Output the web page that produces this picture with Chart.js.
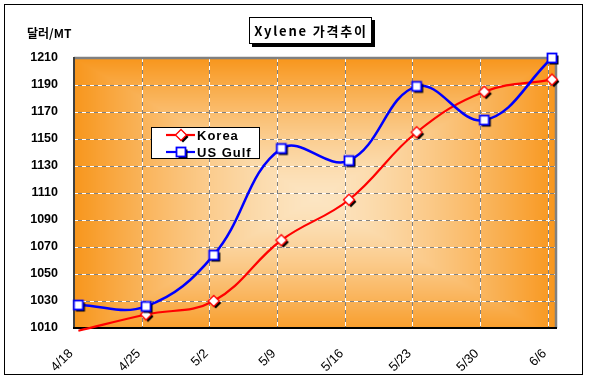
<!DOCTYPE html>
<html><head><meta charset="utf-8">
<script src="https://cdn.jsdelivr.net/npm/chart.js@4"></script>
<style>html,body{margin:0;padding:0;background:#fff}#wrap{width:589px;height:380px;position:relative}</style>
</head><body><div id="wrap"><canvas id="c" width="589" height="380"></canvas></div>
<script>
// ---- data ----
const categories = ['4/18', '4/25', '5/2', '5/9', '5/16', '5/23', '5/30', '6/6'];
const koreaValues = [1008, 1020, 1030, 1075, 1105, 1155, 1185, 1194];
const usGulfValues = [1027, 1026, 1064, 1143, 1134, 1189, 1164, 1210];
const yTickValues = [1010, 1030, 1050, 1070, 1090, 1110, 1130, 1150, 1170, 1190, 1210];
const seriesNames = ['Korea', 'US Gulf'];
const titleText = 'Xylene 가격추이';
const yUnitText = '달러/MT';

// ---- styling ----
const POINT_SHIFT = 0.065;
const KR_FONT = '"Noto Sans CJK KR", "Liberation Sans", sans-serif';

function makeMarker(kind, color) {
  const c = document.createElement('canvas');
  c.width = 20; c.height = 20;
  const g = c.getContext('2d');
  if (kind === 'diamond') {
    const d = (ox, oy) => { g.beginPath(); g.moveTo(10 + ox, 4.5 + oy); g.lineTo(15.5 + ox, 10 + oy); g.lineTo(10 + ox, 15.5 + oy); g.lineTo(4.5 + ox, 10 + oy); g.closePath(); };
    d(2, 2); g.fillStyle = '#000'; g.fill();
    d(0, 0); g.fillStyle = '#fff'; g.fill(); g.lineWidth = 1.3; g.strokeStyle = color; g.stroke();
  } else {
    g.fillStyle = '#000'; g.fillRect(7.5, 7.5, 9, 9);
    g.fillStyle = '#fff'; g.fillRect(5.5, 5.5, 9, 9);
    g.lineWidth = 1.8; g.strokeStyle = color; g.strokeRect(5.5, 5.5, 9, 9);
  }
  return c;
}
const diamondImg = makeMarker('diamond', '#ff0000');
const squareImg = makeMarker('square', '#0000ff');

const bgPlugin = {
  id: 'bg',
  beforeDraw(chart) {
    const ctx = chart.ctx, a = chart.chartArea;
    ctx.save();
    ctx.fillStyle = '#fff';
    ctx.fillRect(0, 0, chart.width, chart.height);
    ctx.strokeStyle = '#000'; ctx.lineWidth = 1;
    ctx.strokeRect(4.5, 4.5, 578, 370);
    // rectangular "from center" gradient
    const w = Math.round(a.right - a.left), h = Math.round(a.bottom - a.top);
    const img = ctx.createImageData(w, h);
    const cx = w / 2, cy = h / 2 + 5;
    const c0 = [252, 229, 194], c1 = [248, 150, 28];
    for (let y = 0; y < h; y++) {
      for (let x = 0; x < w; x++) {
        let t = Math.max(Math.abs(x - cx) / (w / 2), Math.abs(y - cy) / (h / 2 + 5));
        t = Math.min(1, Math.pow(t, 1.4));
        const i = (y * w + x) * 4;
        img.data[i] = c0[0] + (c1[0] - c0[0]) * t;
        img.data[i + 1] = c0[1] + (c1[1] - c0[1]) * t;
        img.data[i + 2] = c0[2] + (c1[2] - c0[2]) * t;
        img.data[i + 3] = 255;
      }
    }
    ctx.putImageData(img, Math.round(a.left), Math.round(a.top));
    ctx.restore();
  },
  beforeDatasetsDraw(chart) {
    const ctx = chart.ctx, a = chart.chartArea;
    const xs = chart.scales.x, ys = chart.scales.y;
    ctx.save();
    const line = (x1, y1, x2, y2) => {
      ctx.setLineDash([]); ctx.strokeStyle = '#808080'; ctx.lineWidth = 1;
      ctx.beginPath(); ctx.moveTo(x1, y1); ctx.lineTo(x2, y2); ctx.stroke();
      ctx.setLineDash([4, 4]); ctx.strokeStyle = '#ffffff';
      ctx.beginPath(); ctx.moveTo(x1, y1); ctx.lineTo(x2, y2); ctx.stroke();
    };
    yTickValues.forEach(v => {
      if (v === yTickValues[0] || v === yTickValues[yTickValues.length - 1]) return;
      const y = Math.round(ys.getPixelForValue(v)) + 0.5;
      line(a.left, y, a.right, y);
    });
    categories.forEach((c, i) => {
      if (i === 0) return;
      const x = Math.round(xs.getPixelForValue(i)) + 0.5;
      line(x, a.top, x, a.bottom);
    });
    ctx.setLineDash([]);
    ctx.strokeStyle = '#808080'; ctx.lineWidth = 2.5;
    ctx.beginPath(); ctx.moveTo(a.left, a.top); ctx.lineTo(a.right, a.top); ctx.lineTo(a.right, a.bottom); ctx.stroke();
    ctx.strokeStyle = '#404040'; ctx.lineWidth = 2;
    ctx.beginPath(); ctx.moveTo(a.left, a.top - 1); ctx.lineTo(a.left, a.bottom); ctx.stroke();
    ctx.strokeStyle = '#000'; ctx.lineWidth = 2;
    ctx.beginPath(); ctx.moveTo(a.left - 1, a.bottom); ctx.lineTo(a.right + 1, a.bottom); ctx.stroke();
    ctx.restore();
  },
  afterDraw(chart) {
    const ctx = chart.ctx;
    ctx.save();
    // y unit
    ctx.fillStyle = '#000';
    ctx.font = 'bold 12px ' + KR_FONT;
    ctx.textBaseline = 'middle'; ctx.textAlign = 'left';
    ctx.fillText(yUnitText, 27, 33);
    // title box
    ctx.fillStyle = '#000'; ctx.fillRect(252, 20, 123, 27);
    ctx.fillStyle = '#fff'; ctx.fillRect(249, 17, 123, 27);
    ctx.strokeStyle = '#000'; ctx.lineWidth = 1; ctx.strokeRect(249.5, 17.5, 122, 26);
    ctx.fillStyle = '#000';
    ctx.font = 'bold 13px ' + KR_FONT;
    ctx.letterSpacing = '1.8px';
    ctx.textAlign = 'center';
    ctx.fillText(titleText, 311, 31);
    // legend
    ctx.letterSpacing = '1px';
    ctx.fillStyle = '#fff'; ctx.fillRect(151, 127, 109, 32);
    ctx.strokeRect(151.5, 127.5, 108, 31);
    const rows = [[seriesNames[0], '#ff0000', diamondImg, 135], [seriesNames[1], '#0000ff', squareImg, 152]];
    rows.forEach(([name, col, img, y]) => {
      ctx.strokeStyle = col; ctx.lineWidth = 2.2;
      ctx.beginPath(); ctx.moveTo(166, y); ctx.lineTo(195, y); ctx.stroke();
      ctx.drawImage(img, 181 - 10, y - 10);
      ctx.fillStyle = '#000';
      ctx.font = 'bold 13px "Liberation Sans", Arial, sans-serif';
      ctx.textAlign = 'left';
      ctx.fillText(name, 197, y + 1);
    });
    ctx.restore();
  }
};

const mk = vals => vals.map((v, i) => ({ x: i + POINT_SHIFT, y: v }));

new Chart(document.getElementById('c'), {
  type: 'line',
  data: {
    datasets: [
      {
        label: seriesNames[0], data: mk(koreaValues), order: 1,
        borderColor: '#ff0000', borderWidth: 2.2, tension: 0.4,
        pointStyle: diamondImg, pointRadius: koreaValues.map((v, i) => i === 0 ? 0 : 5),
        clip: { left: 10, right: 10, top: 10, bottom: 5 }
      },
      {
        label: seriesNames[1], data: mk(usGulfValues), order: 0,
        borderColor: '#0000ff', borderWidth: 2.5, tension: 0.4,
        pointStyle: squareImg, pointRadius: 5,
        clip: { left: 10, right: 10, top: 10, bottom: 5 }
      }
    ]
  },
  options: {
    responsive: false, animation: false, devicePixelRatio: 1,
    layout: { padding: { top: 58, right: 33, left: 0, bottom: 0 } },
    plugins: { legend: { display: false }, title: { display: false }, tooltip: { enabled: false } },
    scales: {
      x: {
        type: 'linear', min: 0, max: 7.125,
        afterBuildTicks: s => { s.ticks = categories.map((c, i) => ({ value: i })); },
        afterFit: s => { s.height = 52; },
        grid: { display: false, drawTicks: false },
        border: { display: false },
        ticks: {
          autoSkip: false, maxRotation: 45, minRotation: 45, padding: 18, labelOffset: -3,
          color: '#000', font: { family: '"Liberation Sans", Arial, sans-serif', size: 13 },
          callback: v => categories[v]
        }
      },
      y: {
        min: yTickValues[0], max: yTickValues[yTickValues.length - 1],
        afterBuildTicks: s => { s.ticks = yTickValues.map(v => ({ value: v })); },
        afterFit: s => { s.width = 74; },
        grid: { display: false, drawTicks: false },
        border: { display: false },
        ticks: {
          padding: 16, color: '#000',
          font: { family: '"Liberation Sans", Arial, sans-serif', size: 12.5, weight: 'bold' },
          callback: v => String(v)
        }
      }
    }
  },
  plugins: [bgPlugin]
});
</script>
</body></html>
